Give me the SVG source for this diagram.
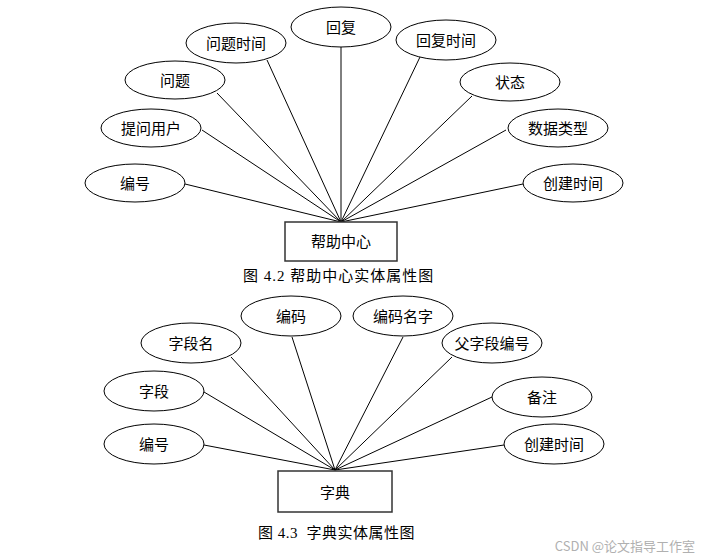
<svg xmlns="http://www.w3.org/2000/svg" width="706" height="557" viewBox="0 0 706 557">
<style>
.e{fill:#fff;stroke:#000;stroke-width:1}
.b{fill:#fff;stroke:#333;stroke-width:1.5}
.t{font-family:"Noto Sans CJK SC","Liberation Serif",serif;font-size:15px;fill:#000;text-anchor:middle;dominant-baseline:central}
.c{font-family:"Liberation Serif","Noto Sans CJK SC",serif;font-size:15px;fill:#000}
.l line{stroke:#000;stroke-width:1}
.w{font-family:"Noto Sans CJK SC","Liberation Sans",sans-serif;font-size:13px;fill:#b0b0b0;text-anchor:end;dominant-baseline:central}
</style>
<rect width="706" height="557" fill="#fff"/>
<g class="l" id="connectors">
<line x1="341" y1="47" x2="341" y2="222"/>
<line x1="267" y1="60" x2="341" y2="222"/>
<line x1="217" y1="93" x2="341" y2="222"/>
<line x1="202" y1="130" x2="341" y2="222"/>
<line x1="185" y1="184" x2="341" y2="222"/>
<line x1="420" y1="57" x2="341" y2="222"/>
<line x1="472" y1="96" x2="341" y2="222"/>
<line x1="506" y1="130" x2="341" y2="222"/>
<line x1="523" y1="184" x2="341" y2="222"/>
<line x1="292" y1="337" x2="335" y2="470"/>
<line x1="231" y1="357" x2="335" y2="470"/>
<line x1="204" y1="392" x2="335" y2="470"/>
<line x1="204" y1="445" x2="335" y2="470"/>
<line x1="403" y1="337" x2="335" y2="470"/>
<line x1="452" y1="357" x2="335" y2="470"/>
<line x1="492" y1="397" x2="335" y2="470"/>
<line x1="504" y1="445" x2="335" y2="470"/>
</g>
<g id="help-center"><rect class="b" x="285" y="222" width="112" height="39"/><text class="t" x="341" y="240">帮助中心</text></g>
<g id="a-huifu"><ellipse class="e" cx="341" cy="27" rx="50" ry="20"/><text class="t" x="341" y="26">回复</text></g>
<g id="a-wentishijian"><ellipse class="e" cx="236" cy="43" rx="50" ry="20"/><text class="t" x="236" y="42">问题时间</text></g>
<g id="a-wenti"><ellipse class="e" cx="175" cy="80" rx="50" ry="19"/><text class="t" x="175" y="79">问题</text></g>
<g id="a-tiwenyonghu"><ellipse class="e" cx="151" cy="128" rx="50" ry="19"/><text class="t" x="151" y="127">提问用户</text></g>
<g id="a-bianhao1"><ellipse class="e" cx="135" cy="183" rx="50" ry="19"/><text class="t" x="135" y="182">编号</text></g>
<g id="a-huifushijian"><ellipse class="e" cx="446" cy="40" rx="50" ry="20"/><text class="t" x="446" y="39">回复时间</text></g>
<g id="a-zhuangtai"><ellipse class="e" cx="510" cy="82" rx="50" ry="19"/><text class="t" x="510" y="81">状态</text></g>
<g id="a-shujuleixing"><ellipse class="e" cx="558" cy="128" rx="50" ry="19"/><text class="t" x="558" y="127">数据类型</text></g>
<g id="a-chuangjianshijian1"><ellipse class="e" cx="573" cy="183" rx="50" ry="19"/><text class="t" x="573" y="182">创建时间</text></g>
<text class="c" x="243" y="281" style="letter-spacing:1px">图 4.2 帮助中心实体属性图</text>
<g id="dictionary"><rect class="b" x="278" y="471" width="114" height="41"/><text class="t" x="335" y="491">字典</text></g>
<g id="a-bianma"><ellipse class="e" cx="291" cy="316" rx="50" ry="20"/><text class="t" x="291" y="315">编码</text></g>
<g id="a-ziduanming"><ellipse class="e" cx="191" cy="343" rx="50" ry="20"/><text class="t" x="191" y="342">字段名</text></g>
<g id="a-ziduan"><ellipse class="e" cx="154" cy="391" rx="50" ry="20"/><text class="t" x="154" y="390">字段</text></g>
<g id="a-bianhao2"><ellipse class="e" cx="154" cy="444" rx="50" ry="20"/><text class="t" x="154" y="443">编号</text></g>
<g id="a-bianmamingzi"><ellipse class="e" cx="403" cy="316" rx="50" ry="20"/><text class="t" x="403" y="315">编码名字</text></g>
<g id="a-fuziduanbianhao"><ellipse class="e" cx="492" cy="343" rx="50" ry="20"/><text class="t" x="492" y="342">父字段编号</text></g>
<g id="a-beizhu"><ellipse class="e" cx="542" cy="397" rx="50" ry="20"/><text class="t" x="542" y="396">备注</text></g>
<g id="a-chuangjianshijian2"><ellipse class="e" cx="554" cy="444" rx="50" ry="20"/><text class="t" x="554" y="443">创建时间</text></g>
<text class="c" x="258" y="538" xml:space="preserve" style="letter-spacing:0.5px">图 4.3  字典实体属性图</text>
<text class="w" x="695" y="545">CSDN @论文指导工作室</text>
</svg>
